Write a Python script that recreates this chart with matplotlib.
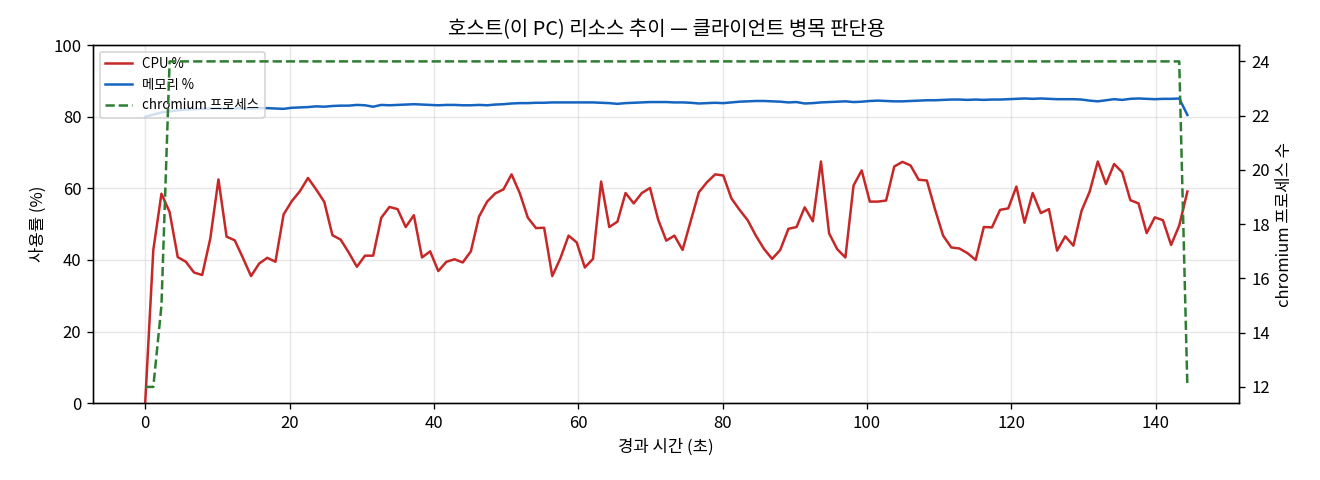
import numpy as np
import matplotlib
matplotlib.use("Agg")
import matplotlib.pyplot as plt

plt.rcParams['font.family'] = ['Noto Sans CJK KR', 'DejaVu Sans']
plt.rcParams['axes.unicode_minus'] = False

# sampling period of the monitor (seconds)
sample_interval = 1.128

cpu_pct = [
    0.0, 42.8, 58.5, 53.4, 40.8, 39.5, 36.5, 35.8, 46.0, 62.5,
    46.5, 45.5, 40.6, 35.5, 39.0, 40.6, 39.5, 52.7, 56.4, 59.2,
    62.9, 59.7, 56.2, 46.9, 45.7, 42.1, 38.1, 41.2, 41.2, 51.8,
    54.8, 54.2, 49.2, 52.5, 40.7, 42.4, 36.9, 39.5, 40.2, 39.3,
    42.4, 52.1, 56.3, 58.6, 59.7, 63.9, 58.7, 51.8, 48.9, 49.0,
    35.5, 40.5, 46.8, 44.9, 37.9, 40.3, 61.9, 49.2, 50.7, 58.7,
    55.8, 58.7, 60.1, 51.3, 45.4, 46.8, 42.8, 50.8, 58.9, 61.7,
    63.9, 63.6, 57.2, 54.0, 51.1, 46.8, 43.1, 40.3, 42.8, 48.7,
    49.2, 54.7, 50.8, 67.5, 47.4, 43.0, 40.7, 60.8, 65.0, 56.3,
    56.3, 56.6, 66.1, 67.4, 66.4, 62.4, 62.2, 54.2, 46.8, 43.5,
    43.2, 41.9, 40.0, 49.2, 49.1, 54.0, 54.4, 60.5, 50.4, 58.7,
    53.1, 54.2, 42.6, 46.6, 44.0, 53.7, 59.1, 67.5, 61.2, 66.8,
    64.5, 56.7, 55.8, 47.5, 51.9, 51.1, 44.2, 49.6, 59.1,
]

mem_pct = [
    80.0, 80.6, 81.2, 81.5, 81.8, 82.0, 82.1, 82.2, 82.3, 82.3,
    82.2, 82.3, 82.4, 82.3, 82.4, 82.4, 82.3, 82.2, 82.5, 82.6,
    82.7, 82.9, 82.8, 83.0, 83.1, 83.1, 83.3, 83.2, 82.8, 83.3,
    83.2, 83.3, 83.4, 83.5, 83.4, 83.3, 83.2, 83.3, 83.3, 83.2,
    83.2, 83.3, 83.2, 83.4, 83.5, 83.7, 83.8, 83.8, 83.9, 83.9,
    84.0, 84.0, 84.0, 84.0, 84.0, 84.0, 83.9, 83.8, 83.6, 83.8,
    83.9, 84.0, 84.1, 84.1, 84.1, 84.0, 84.0, 83.9, 83.7, 83.8,
    83.9, 83.8, 84.0, 84.2, 84.3, 84.4, 84.4, 84.3, 84.2, 84.0,
    84.1, 83.7, 83.8, 84.0, 84.1, 84.2, 84.3, 84.1, 84.2, 84.4,
    84.5, 84.4, 84.3, 84.3, 84.4, 84.5, 84.6, 84.6, 84.7, 84.8,
    84.8, 84.7, 84.8, 84.7, 84.8, 84.8, 84.9, 85.0, 85.1, 85.0,
    85.1, 85.0, 84.9, 84.9, 84.9, 84.8, 84.5, 84.3, 84.6, 84.9,
    84.7, 85.0, 85.1, 85.0, 84.9, 85.0, 85.0, 85.1, 80.5,
]

chromium_procs = [12, 12, 15] + [24] * 125 + [12]

elapsed = np.arange(len(cpu_pct)) * sample_interval

fig, ax1 = plt.subplots(figsize=(11, 4), dpi=120)
fig.subplots_adjust(left=0.0705, right=0.939, top=0.906, bottom=0.16)

l1, = ax1.plot(elapsed, cpu_pct, color='#c62828', lw=1.5, label='CPU %')
l2, = ax1.plot(elapsed, mem_pct, color='#1565c0', lw=1.5, label='메모리 %')
ax1.set_ylim(0, 100)
ax1.set_xlabel('경과 시간 (초)')
ax1.set_ylabel('사용률 (%)')
ax1.grid(True, alpha=0.3)

ax2 = ax1.twinx()
l3, = ax2.plot(elapsed, chromium_procs, color='#2e7d32', lw=1.5, ls='--',
               label='chromium 프로세스')
ax2.set_ylabel('chromium 프로세스 수')

ax1.legend(handles=[l1, l2, l3], loc='upper left', fontsize=8)
ax1.set_title('호스트(이 PC) 리소스 추이 — 클라이언트 병목 판단용')

fig.savefig('out.png')
